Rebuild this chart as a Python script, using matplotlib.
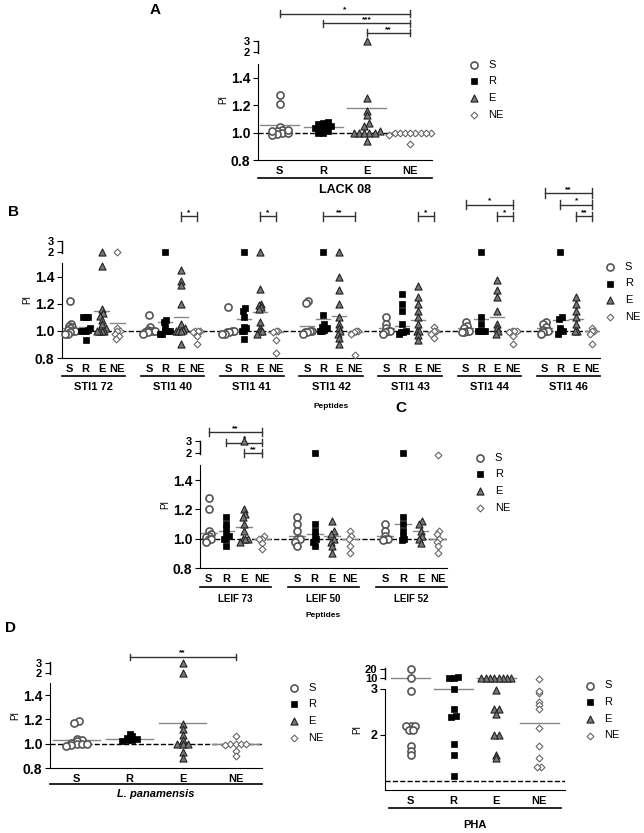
import numpy as np
import matplotlib
matplotlib.use("Agg")
import matplotlib.pyplot as plt
import matplotlib.transforms as mtransforms

plt.rcParams['font.family'] = ['Liberation Sans', 'DejaVu Sans']
plt.rcParams['font.weight'] = 'bold'

cats = ['S', 'R', 'E', 'NE']

# panel A - LACK 08
lack08 = [[1.27, 1.21, 1.04, 1.02, 1.01, 1.0, 0.99, 0.98, 1.0, 1.01, 1.02],
          [1.03, 1.05, 1.06, 1.07, 1.08, 1.0, 1.0, 1.04, 1.04, 1.01],
          [3.0, 1.25, 1.16, 1.13, 1.07, 1.05, 1.01, 1.0, 1.0, 1.0, 1.0, 1.0, 0.94],
          [1.0, 1.0, 1.0, 1.0, 1.0, 1.0, 1.0, 1.0, 0.98, 0.92]]
lack08_mean = [1.055, 1.04, 1.18, 1.0]

# panel B - STI1 peptides
sti_names = ['STI1 72', 'STI1 40', 'STI1 41', 'STI1 42', 'STI1 43', 'STI1 44', 'STI1 46']
sti_vals = [
    [[1.22, 1.05, 1.04, 1.03, 1.02, 1.01, 1.0, 1.0, 0.99, 0.98, 0.98],
     [1.1, 1.1, 1.1, 1.02, 1.01, 1.0, 1.0, 1.0, 0.93],
     [2.0, 1.48, 1.16, 1.13, 1.11, 1.08, 1.05, 1.02, 1.0, 1.0, 1.0, 1.0],
     [2.0, 1.02, 1.0, 1.0, 0.98, 0.96, 0.94]],
    [[1.12, 1.03, 1.01, 1.0, 1.0, 1.0, 0.99, 0.99, 0.98],
     [2.0, 1.08, 1.07, 1.03, 1.0, 1.0, 1.0, 0.98, 0.98],
     [1.45, 1.37, 1.34, 1.2, 1.05, 1.02, 1.01, 1.0, 1.0, 1.0, 0.9],
     [1.0, 1.0, 1.0, 0.99, 0.96, 0.9]],
    [[1.18, 1.0, 1.0, 0.99, 0.99, 0.98, 0.98],
     [2.0, 1.17, 1.15, 1.1, 1.03, 1.02, 1.0, 1.0, 0.94],
     [2.0, 1.31, 1.2, 1.19, 1.18, 1.16, 1.07, 1.02, 1.0, 1.0, 0.98],
     [1.0, 1.0, 0.99, 0.93, 0.84]],
    [[1.22, 1.21, 1.0, 1.0, 0.99, 0.99, 0.98],
     [2.0, 1.12, 1.05, 1.03, 1.02, 1.01, 1.0, 1.0],
     [2.0, 1.4, 1.3, 1.2, 1.1, 1.05, 1.02, 1.0, 0.98, 0.95, 0.9],
     [1.0, 1.0, 0.99, 0.98, 0.82]],
    [[1.1, 1.05, 1.02, 1.0, 1.0, 0.99, 0.98],
     [1.27, 1.2, 1.15, 1.05, 1.0, 0.99, 0.99, 0.98],
     [1.33, 1.25, 1.2, 1.15, 1.1, 1.05, 1.0, 1.0, 0.97, 0.93],
     [1.03, 1.0, 1.0, 0.98, 0.95]],
    [[1.07, 1.04, 1.02, 1.0, 1.0, 0.99, 0.99],
     [2.0, 1.1, 1.05, 1.0, 1.0, 1.0, 1.0],
     [1.38, 1.3, 1.25, 1.15, 1.05, 1.02, 1.0, 0.98],
     [1.0, 1.0, 1.0, 0.99, 0.96, 0.9]],
    [[1.07, 1.05, 1.03, 1.01, 1.0, 1.0, 0.99, 0.98],
     [2.0, 1.1, 1.09, 1.02, 1.0, 1.0, 0.98],
     [1.25, 1.2, 1.15, 1.1, 1.05, 1.0, 1.0],
     [1.02, 1.0, 1.0, 0.98, 0.9]],
]
sti_mean = [[1.02, 1.03, 1.15, 1.06], [1.0, 1.07, 1.1, 0.99], [1.0, 1.09, 1.14, 0.99],
            [1.04, 1.09, 1.11, 0.99], [1.02, 1.04, 1.08, 0.99], [1.02, 1.09, 1.1, 0.99],
            [1.02, 1.08, 1.09, 1.0]]
# (group, cat_from, cat_to, label, level)
sti_sig = [(1, 2, 3, '*', 0), (2, 2, 3, '*', 0), (3, 1, 3, '**', 0), (4, 2, 3, '*', 0),
           (5, 0, 3, '*', 1), (5, 2, 3, '*', 0), (6, 0, 3, '**', 2), (6, 1, 3, '*', 1),
           (6, 2, 3, '**', 0)]

# panel C - LEIF peptides
leif_names = ['LEIF 73', 'LEIF 50', 'LEIF 52']
leif_vals = [
    [[1.28, 1.2, 1.05, 1.03, 1.02, 1.01, 1.0, 1.0, 0.98],
     [1.15, 1.1, 1.07, 1.03, 1.02, 1.0, 1.0, 0.95],
     [3.0, 1.2, 1.17, 1.15, 1.1, 1.05, 1.0, 1.0, 1.0, 0.98],
     [1.02, 1.0, 1.0, 0.97, 0.93]],
    [[1.15, 1.1, 1.05, 1.0, 1.0, 0.98, 0.95],
     [2.0, 1.1, 1.05, 1.02, 1.0, 0.98, 0.95],
     [1.12, 1.05, 1.03, 1.0, 0.98, 0.95, 0.9],
     [1.05, 1.02, 1.0, 0.95, 0.9]],
    [[1.1, 1.05, 1.02, 1.0, 1.0, 0.99],
     [2.0, 1.15, 1.1, 1.05, 1.02, 1.0, 0.99],
     [1.12, 1.1, 1.05, 1.02, 1.0, 0.97],
     [1.9, 1.05, 1.03, 1.0, 0.98, 0.95, 0.9]],
]
leif_mean = [[1.04, 1.05, 1.08, 1.0], [1.02, 1.03, 1.02, 1.0], [1.02, 1.1, 1.05, 1.0]]
leif_sig = [(0, 0, 3, '**', 2), (0, 1, 3, '*', 1), (0, 2, 3, '**', 0)]

# panel D - L. panamensis and PHA
lpan = [[1.19, 1.17, 1.04, 1.03, 1.02, 1.01, 1.0, 1.0, 1.0, 0.99, 0.98],
        [1.08, 1.06, 1.05, 1.04, 1.03, 1.03, 1.02],
        [3.0, 2.0, 1.16, 1.12, 1.07, 1.03, 1.0, 1.0, 1.0, 0.93, 0.88],
        [1.06, 1.0, 1.0, 1.0, 1.0, 0.99, 0.94, 0.9]]
lpan_mean = [1.03, 1.04, 1.17, 1.0]

pha = [[20, 10, 2.95, 2.2, 2.2, 2.2, 2.1, 2.1, 1.75, 1.65, 1.55],
       [10, 10, 10.5, 3.0, 2.55, 2.4, 2.38, 1.8, 1.55, 1.1],
       [10, 10, 10, 10, 10, 10, 10, 10, 2.98, 2.55, 2.55, 2.45, 2.0, 2.0, 1.55, 1.5],
       [9, 2.9, 2.95, 2.7, 2.65, 2.55, 2.15, 1.75, 1.5, 1.3, 1.3]]
pha_mean = [10, 3.0, 10, 2.25]

marker_style = [dict(marker='o', s=26, facecolor='white', edgecolor='#555555', linewidth=1.2),
                dict(marker='s', s=20, facecolor='black', edgecolor='black', linewidth=0.5),
                dict(marker='^', s=26, facecolor='#777777', edgecolor='#222222', linewidth=0.8),
                dict(marker='D', s=12, facecolor='white', edgecolor='#666666', linewidth=0.8)]


# broken y scale: linear to 1.5, compressed above
def fwd_pi(y):
    y = np.asarray(y, float)
    return np.where(y <= 1.5, y, np.where(y <= 2, 1.5 + 0.17 * (y - 1.5), 1.585 + 0.08 * (y - 2)))


def inv_pi(y):
    y = np.asarray(y, float)
    return np.where(y <= 1.5, y, np.where(y <= 1.585, 1.5 + (y - 1.5) / 0.17, 2 + (y - 1.585) / 0.08))


def fwd_pha(y):
    y = np.asarray(y, float)
    return np.where(y <= 3, y, np.where(y <= 10, 3 + 0.24 * (y - 3) / 7, 3.24 + 0.019 * (y - 10)))


def inv_pha(y):
    y = np.asarray(y, float)
    return np.where(y <= 3, y, np.where(y <= 3.24, 3 + (y - 3) * 7 / 0.24, 10 + (y - 3.24) / 0.019))


def spread(vals, fwd, tol=0.03, step=0.14):
    # simple deterministic swarm offsets
    v = np.array(fwd(vals), float)
    order = np.argsort(v)
    offs = np.zeros(len(v))
    i = 0
    while i < len(order):
        j = i
        while j + 1 < len(order) and v[order[j + 1]] - v[order[i]] < tol:
            j += 1
        n = j - i + 1
        offs[order[i:j + 1]] = (np.arange(n) - (n - 1) / 2) * step
        i = j + 1
    return offs


def draw_groups(ax, groups, means, fwd, gap=5, step=0.14, mean_w=0.45, tol=0.03):
    for g, grp in enumerate(groups):
        for c, vals in enumerate(grp):
            x0 = g * gap + c
            offs = spread(vals, fwd, tol=tol, step=step)
            ax.scatter(x0 + offs, vals, zorder=3, clip_on=False, **marker_style[c])
            ax.plot([x0 - mean_w, x0 + mean_w], [means[g][c]] * 2, color='#888888', lw=1, zorder=2)


def style_pi(ax, xmin, xmax, top=3.1):
    ax.set_yscale('function', functions=(fwd_pi, inv_pi))
    ax.set_ylim(0.8, top)
    ax.set_xlim(xmin, xmax)
    ax.set_yticks([0.8, 1.0, 1.2, 1.4, 2, 3])
    ax.set_yticklabels(['0.8', '1.0', '1.2', '1.4', '2', '3'])
    ax.spines['left'].set_bounds(0.8, 1.5)
    ax.spines['top'].set_visible(False)
    ax.spines['right'].set_visible(False)
    ax.axhline(1.0, color='black', ls='--', lw=1, zorder=1)
    ax.set_ylabel('PI', fontsize=7, labelpad=2)
    ax.tick_params(axis='y', labelsize=10, pad=2)
    for t in ax.get_yticklabels()[4:]:
        t.set_fontsize(8)
    ax.plot([xmin, xmin], [1.95, 3.05], color='black', lw=1, clip_on=False)


def label_groups(ax, names, ngroups, gap=5, name_size=8):
    pos = [g * gap + c for g in range(ngroups) for c in range(4)]
    ax.set_xticks(pos)
    ax.set_xticklabels(cats * ngroups, fontsize=8)
    ax.tick_params(axis='x', length=0, pad=4)
    tr = mtransforms.blended_transform_factory(ax.transData, ax.transAxes)
    for g in range(ngroups):
        ax.plot([g * gap - 0.5, g * gap + 3.5], [-0.15, -0.15], color='black', lw=1.2,
                transform=tr, clip_on=False)
        if names:
            ax.text(g * gap + 1.5, -0.2, names[g], transform=tr, ha='center', va='top',
                    fontsize=name_size)


def sig_bars(ax, sigs, gap, base, dy, tick=0.04):
    tr = mtransforms.blended_transform_factory(ax.transData, ax.transAxes)
    for g, a, b, lab, lev in sigs:
        y = base + lev * dy
        x1, x2 = g * gap + a, g * gap + b
        ax.plot([x1, x2], [y, y], color='#333333', lw=1, transform=tr, clip_on=False)
        ax.plot([x1, x1], [y - tick, y + tick], color='#333333', lw=1, transform=tr, clip_on=False)
        ax.plot([x2, x2], [y - tick, y + tick], color='#333333', lw=1, transform=tr, clip_on=False)
        ax.text((x1 + x2) / 2, y, lab, transform=tr, ha='center', va='bottom', fontsize=6)


def legend(ax, x=1.08, y=1.0):
    hs = [ax.scatter([], [], **marker_style[c]) for c in range(4)]
    ax.legend(hs, cats, loc='upper left', bbox_to_anchor=(x, y), frameon=False,
              handletextpad=0.3, labelspacing=0.6, prop={'weight': 'normal', 'size': 8})


W, H = 644, 833
fig = plt.figure(figsize=(W / 100, H / 100), dpi=100)


def box(l, r, b, t):
    return fig.add_axes([l / W, 1 - b / H, (r - l) / W, (b - t) / H])


# A
axA = box(258, 432, 160, 40)
draw_groups(axA, [lack08], [lack08_mean], fwd_pi, step=0.12)
style_pi(axA, -0.5, 3.5)
label_groups(axA, None, 1)
axA.text(1.5, -0.2, 'LACK 08', transform=mtransforms.blended_transform_factory(axA.transData, axA.transAxes),
         ha='center', va='top', fontsize=9)
sig_bars(axA, [(0, 0, 3, '*', 2), (0, 1, 3, '***', 1), (0, 2, 3, '**', 0)], 5, 1.06, 0.08, tick=0.03)
legend(axA, 1.12, 0.92)
fig.text(150 / W, 1 - 10 / H, 'A', fontsize=11, ha='left', va='center')

# B
axB = box(62, 600, 358, 240)
draw_groups(axB, sti_vals, sti_mean, fwd_pi, step=0.15)
style_pi(axB, -0.5, 33.5)
label_groups(axB, sti_names, 7)
axB.text(16.5, -0.38, 'Peptides', transform=mtransforms.blended_transform_factory(axB.transData, axB.transAxes),
         ha='center', va='top', fontsize=6)
sig_bars(axB, sti_sig, 5, 1.2, 0.1)
legend(axB, 0.98, 0.9)
fig.text(8 / W, 1 - 212 / H, 'B', fontsize=11, ha='left', va='center')

# C
axC = box(200, 447, 568, 440)
draw_groups(axC, leif_vals, leif_mean, fwd_pi, step=0.14)
style_pi(axC, -0.5, 13.5)
label_groups(axC, leif_names, 3, name_size=7)
axC.text(6.5, -0.34, 'Peptides', transform=mtransforms.blended_transform_factory(axC.transData, axC.transAxes),
         ha='center', va='top', fontsize=6)
sig_bars(axC, leif_sig, 5, 0.9, 0.08, tick=0.03)
legend(axC, 1.05, 0.98)
fig.text(395 / W, 1 - 408 / H, 'C', fontsize=11, ha='left', va='center')

# D left
axD = box(50, 262, 768, 662)
draw_groups(axD, [lpan], [lpan_mean], fwd_pi, step=0.1)
style_pi(axD, -0.5, 3.5)
label_groups(axD, None, 1)
axD.text(1.5, -0.2, 'L. panamensis', transform=mtransforms.blended_transform_factory(axD.transData, axD.transAxes),
         ha='center', va='top', fontsize=8, style='italic')
sig_bars(axD, [(0, 1, 3, '**', 0)], 5, 1.05, 0.1, tick=0.03)
legend(axD, 1.05, 0.9)
fig.text(5 / W, 1 - 628 / H, 'D', fontsize=11, ha='left', va='center')

# D right - PHA
axP = box(385, 565, 790, 668)
draw_groups(axP, [pha], [pha_mean], fwd_pha, step=0.1)
axP.set_yscale('function', functions=(fwd_pha, inv_pha))
axP.set_ylim(0.8, 21)
axP.set_xlim(-0.6, 3.6)
axP.set_yticks([2, 3, 10, 20])
axP.set_yticklabels(['2', '3', '10', '20'])
axP.tick_params(axis='y', labelsize=9, pad=2)
for t in axP.get_yticklabels()[2:]:
    t.set_fontsize(8)
axP.spines['left'].set_bounds(0.8, 3)
axP.spines['top'].set_visible(False)
axP.spines['right'].set_visible(False)
axP.plot([-0.6, -0.6], [9, 21], color='black', lw=1, clip_on=False)
axP.axhline(1.0, color='black', ls='--', lw=1, zorder=1)
axP.set_ylabel('PI', fontsize=7, labelpad=2)
label_groups(axP, None, 1)
axP.text(1.5, -0.25, 'PHA', transform=mtransforms.blended_transform_factory(axP.transData, axP.transAxes),
         ha='center', va='top', fontsize=8)
legend(axP, 1.02, 0.98)

fig.savefig('out.png', dpi=100)
